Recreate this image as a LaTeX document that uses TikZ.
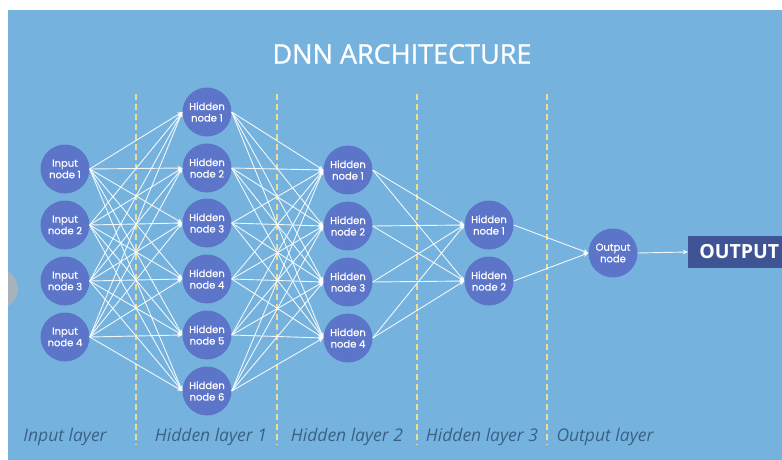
\documentclass[tikz,border=0pt]{standalone}
\usepackage{fontspec}
\usepackage{xcolor}
\usepackage{tikz}
\usetikzlibrary{arrows.meta}
\newfontfamily\titlefont{Open Sans}
\newfontfamily\headfont[FakeBold=1]{Open Sans}
\newfontfamily\nodefont[FakeBold=0.6]{Poppins}

\definecolor{bgblue}{RGB}{117,179,222}
\definecolor{nodeblue}{RGB}{92,117,200}
\definecolor{boxnavy}{RGB}{62,84,148}
\definecolor{labeltext}{RGB}{58,98,135}
\definecolor{dashyel}{RGB}{236,222,150}
\definecolor{navgrey}{RGB}{168,178,188}

\begin{document}
\begin{tikzpicture}[x=1pt,y=-1pt]
				\useasboundingbox (0,0) rectangle (782,460);
				\fill[bgblue] (8,10) rectangle (782,460);
				\begin{scope}
					\clip (8,10) rectangle (782,460);
					\fill[navgrey] (-1.5,289) circle (19.5);
				\end{scope}
				
				\node[text=white,font=\headfont\fontsize{27}{32}\selectfont] (title) at (402,54) {DNN ARCHITECTURE};
				
				% layer separators
				\begin{scope}[draw=dashyel,line width=1.3pt,dash pattern=on 6pt off 4pt]
					\draw (136,94) -- (136,445);
					\draw (277,94) -- (277,445);
					\draw (417,94) -- (417,445);
					\draw (547,94) -- (547,445);
				\end{scope}
				
				\begin{scope}[every node/.style={circle,fill=nodeblue,text=white,minimum size=49pt,inner sep=0pt,align=center,font=\nodefont\fontsize{10}{11.5}\selectfont}]
					\node (I1) at (65,169) {Input\\node 1};
					\node (I2) at (65,225) {Input\\node 2};
					\node (I3) at (65,281) {Input\\node 3};
					\node (I4) at (65,337) {Input\\node 4};
					
					\node (A1) at (207,112) {Hidden\\node 1};
					\node (A2) at (207,168) {Hidden\\node 2};
					\node (A3) at (207,223) {Hidden\\node 3};
					\node (A4) at (207,279) {Hidden\\node 4};
					\node (A5) at (207,335) {Hidden\\node 5};
					\node (A6) at (207,391) {Hidden\\node 6};
					
					\node (B1) at (348,170) {Hidden\\node 1};
					\node (B2) at (348,226) {Hidden\\node 2};
					\node (B3) at (348,282) {Hidden\\node 3};
					\node (B4) at (348,338) {Hidden\\node 4};
					
					\node (C1) at (489,225) {Hidden\\node 1};
					\node (C2) at (489,281) {Hidden\\node 2};
					
					\node (O) at (613,253) {Output\\node};
				\end{scope}
				
				\node[fill=boxnavy,text=white,anchor=west,minimum height=32pt,minimum width=102pt,font=\titlefont\bfseries\fontsize{19.5}{22}\selectfont] (OUT) at (688,252) {OUTPUT};
				
				\begin{scope}[>={Stealth[white,length=5pt,width=4.5pt]},
					every edge/.style={draw=white,opacity=0.9,line width=0.9pt}]
					\path [->] (I1.east) edge (A1.west) edge (A2.west) edge (A3.west) edge (A4.west) edge (A5.west) edge (A6.west);
					\path [->] (I2.east) edge (A1.west) edge (A2.west) edge (A3.west) edge (A4.west) edge (A5.west) edge (A6.west);
					\path [->] (I3.east) edge (A1.west) edge (A2.west) edge (A3.west) edge (A4.west) edge (A5.west) edge (A6.west);
					\path [->] (I4.east) edge (A1.west) edge (A2.west) edge (A3.west) edge (A4.west) edge (A5.west) edge (A6.west);
					
					\path [->] (A1.east) edge (B1.west) edge (B2.west) edge (B3.west) edge (B4.west);
					\path [->] (A2.east) edge (B1.west) edge (B2.west) edge (B3.west) edge (B4.west);
					\path [->] (A3.east) edge (B1.west) edge (B2.west) edge (B3.west) edge (B4.west);
					\path [->] (A4.east) edge (B1.west) edge (B2.west) edge (B3.west) edge (B4.west);
					\path [->] (A5.east) edge (B1.west) edge (B2.west) edge (B3.west) edge (B4.west);
					\path [->] (A6.east) edge (B1.west) edge (B2.west) edge (B3.west) edge (B4.west);
					
					\path [->] (B1.east) edge (C1.west) edge (C2.west);
					\path [->] (B2.east) edge (C1.west) edge (C2.west);
					\path [->] (B3.east) edge (C1.west) edge (C2.west);
					\path [->] (B4.east) edge (C1.west) edge (C2.west);
					
					\path [->] (C1.east) edge (O.west);
					\path [->] (C2.east) edge (O.west);
					\path [->] (O.east) edge (OUT.west);
				\end{scope}
				
				\begin{scope}[every node/.style={text=labeltext,font=\titlefont\itshape\fontsize{17.5}{20}\selectfont}]
					\node (L1) at (65,437) {Input layer};
					\node (L2) at (211,437) {Hidden layer 1};
					\node (L3) at (347,437) {Hidden layer 2};
					\node (L4) at (482,437) {Hidden layer 3};
					\node (L5) at (605,437) {Output layer};
				\end{scope}
			\end{tikzpicture}
\end{document}
